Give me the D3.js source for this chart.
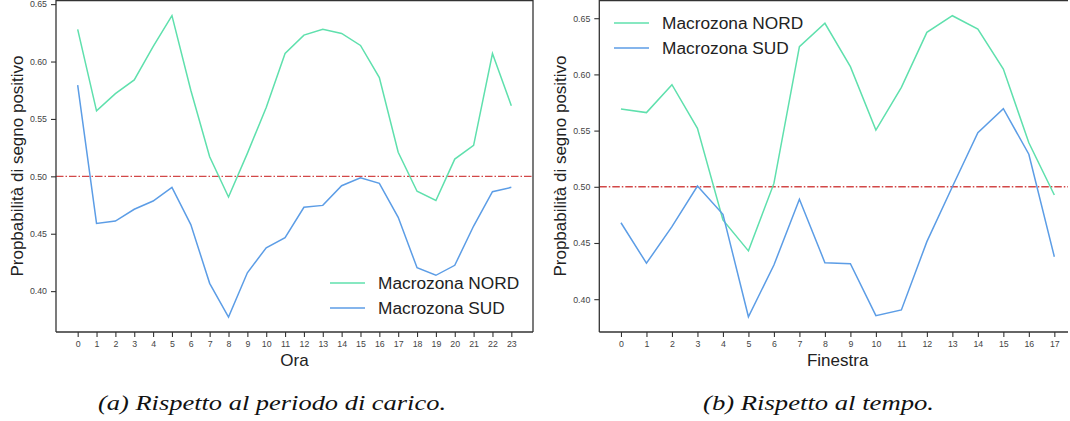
<!DOCTYPE html>
<html lang="it">
<head>
<meta charset="UTF-8" />
<title>Probabilità di segno positivo</title>
<script src="https://cdn.jsdelivr.net/npm/d3@7"></script>
<style>
  body { margin: 0; background: #fff; }
  svg { display: block; font-family: "Liberation Sans", Arial, sans-serif; }
</style>
</head>
<body>
<svg width="1070" height="421"></svg>
<script>
// data
const ore = d3.range(0, 24);
const nordOra = [0.628, 0.557, 0.572, 0.584, 0.613, 0.640, 0.575, 0.517, 0.482, 0.520, 0.560, 0.607,
                 0.623, 0.628, 0.6245, 0.614, 0.586, 0.521, 0.487, 0.479, 0.515, 0.527, 0.607, 0.5615];
const sudOra = [0.5795, 0.459, 0.461, 0.4713, 0.4785, 0.4904, 0.458, 0.4068, 0.3774, 0.416, 0.4378, 0.4465,
                0.473, 0.4747, 0.4918, 0.4988, 0.4939, 0.4643, 0.4204, 0.4138, 0.4225, 0.4567, 0.4866, 0.4904];

const finestre = d3.range(0, 18);
const nordFin = [0.5692, 0.566, 0.5908, 0.552, 0.4705, 0.443, 0.503, 0.6247, 0.6455, 0.6069, 0.5505, 0.5885,
                 0.6374, 0.6522, 0.6404, 0.6048, 0.5392, 0.4927];
const sudFin = [0.468, 0.432, 0.4645, 0.5007, 0.4755, 0.3844, 0.4304, 0.4889, 0.4325, 0.4316, 0.3853, 0.3904,
                0.4512, 0.500, 0.5481, 0.5695, 0.529, 0.4378];

const yTicks = [0.40, 0.45, 0.50, 0.55, 0.60, 0.65];
const serie = ["Macrozona NORD", "Macrozona SUD"];
const colori = ["#5fe0ad", "#5c9de6"];
const soglia = 0.5;

const svg = d3.select("svg");

function pannello(opt) {
  const x = d3.scaleLinear().domain(opt.xDomain).range([opt.left, opt.right]);
  const y = d3.scaleLinear().domain(opt.yDomain).range([opt.bottom, opt.top]);
  const g = svg.append("g");
  const x1 = Math.min(opt.right, opt.clipRight);

  // red threshold line
  g.append("line")
    .attr("x1", opt.left).attr("x2", x1)
    .attr("y1", y(soglia)).attr("y2", y(soglia))
    .attr("stroke", "#d24848").attr("stroke-width", 1.4)
    .attr("stroke-dasharray", "7.5,2,1.5,2");

  const line = d3.line().x((d, i) => x(opt.xs[i])).y(d => y(d));
  opt.series.forEach((s, k) => {
    g.append("path").datum(s)
      .attr("fill", "none")
      .attr("stroke", colori[k])
      .attr("stroke-width", 1.5)
      .attr("d", line);
  });

  // spines
  const sp = [[opt.left, opt.top, opt.left, opt.bottom],
              [opt.left, opt.bottom, x1, opt.bottom],
              [opt.left, opt.top + 0.5, x1, opt.top + 0.5]];
  if (opt.right <= opt.clipRight) sp.push([opt.right, opt.top, opt.right, opt.bottom]);
  sp.forEach(c => {
    g.append("line").attr("x1", c[0]).attr("y1", c[1]).attr("x2", c[2]).attr("y2", c[3])
      .attr("stroke", "#333").attr("stroke-width", 1.3);
  });

  // x axis
  const xa = g.append("g").attr("transform", `translate(0,${opt.bottom})`)
    .call(d3.axisBottom(x).tickValues(opt.xs).tickFormat(d3.format("d")).tickSize(5).tickPadding(4));
  xa.select(".domain").remove();
  // y axis
  const ya = g.append("g").attr("transform", `translate(${opt.left},0)`)
    .call(d3.axisLeft(y).tickValues(yTicks).tickFormat(d3.format(".2f")).tickSize(5).tickPadding(4));
  ya.select(".domain").remove();
  g.selectAll(".tick line").attr("stroke", "#333").attr("stroke-width", 1.1);
  g.selectAll(".tick text").attr("fill", "#444").style("font-size", "8.8px")
    .style("font-family", "Liberation Sans, Arial, sans-serif");

  // axis labels
  g.append("text")
    .attr("x", (opt.left + opt.right) / 2).attr("y", opt.bottom + 34)
    .attr("text-anchor", "middle").attr("fill", "#222")
    .style("font-size", "17px").text(opt.xLabel);
  g.append("text")
    .attr("transform", `translate(${opt.left - 33},${(opt.top + opt.bottom) / 2}) rotate(-90)`)
    .attr("text-anchor", "middle").attr("fill", "#222")
    .style("font-size", "17px").text("Propbabilità di segno positivo");

  // legend
  serie.forEach((name, k) => {
    const ly = opt.legendY + k * 25;
    g.append("line")
      .attr("x1", opt.legendX).attr("x2", opt.legendX + 35)
      .attr("y1", ly).attr("y2", ly)
      .attr("stroke", colori[k]).attr("stroke-width", 1.5);
    g.append("text")
      .attr("x", opt.legendX + 48).attr("y", ly + 6)
      .attr("fill", "#222").style("font-size", "17.3px").text(name);
  });

  // caption
  svg.append("text")
    .attr("x", opt.capX).attr("y", 410)
    .attr("textLength", opt.capW).attr("lengthAdjust", "spacingAndGlyphs")
    .style("font-family", "'Liberation Serif', 'DejaVu Serif', serif")
    .style("font-style", "italic").style("font-size", "20px")
    .attr("fill", "#111").text(opt.caption);
}

pannello({
  xs: ore, series: [nordOra, sudOra],
  xDomain: [-1.15, 24.15], yDomain: [0.3644, 0.6536],
  left: 56, right: 533, top: 0, bottom: 332, clipRight: 1070,
  xLabel: "Ora", legendX: 330, legendY: 283,
  caption: "(a) Rispetto al periodo di carico.", capX: 98, capW: 348
});

pannello({
  xs: finestre, series: [nordFin, sudFin],
  xDomain: [-0.85, 17.85], yDomain: [0.3708, 0.6662],
  left: 599.3, right: 1076, top: 0, bottom: 332, clipRight: 1068,
  xLabel: "Finestra", legendX: 614, legendY: 23,
  caption: "(b) Rispetto al tempo.", capX: 703, capW: 231
});
</script>
</body>
</html>
